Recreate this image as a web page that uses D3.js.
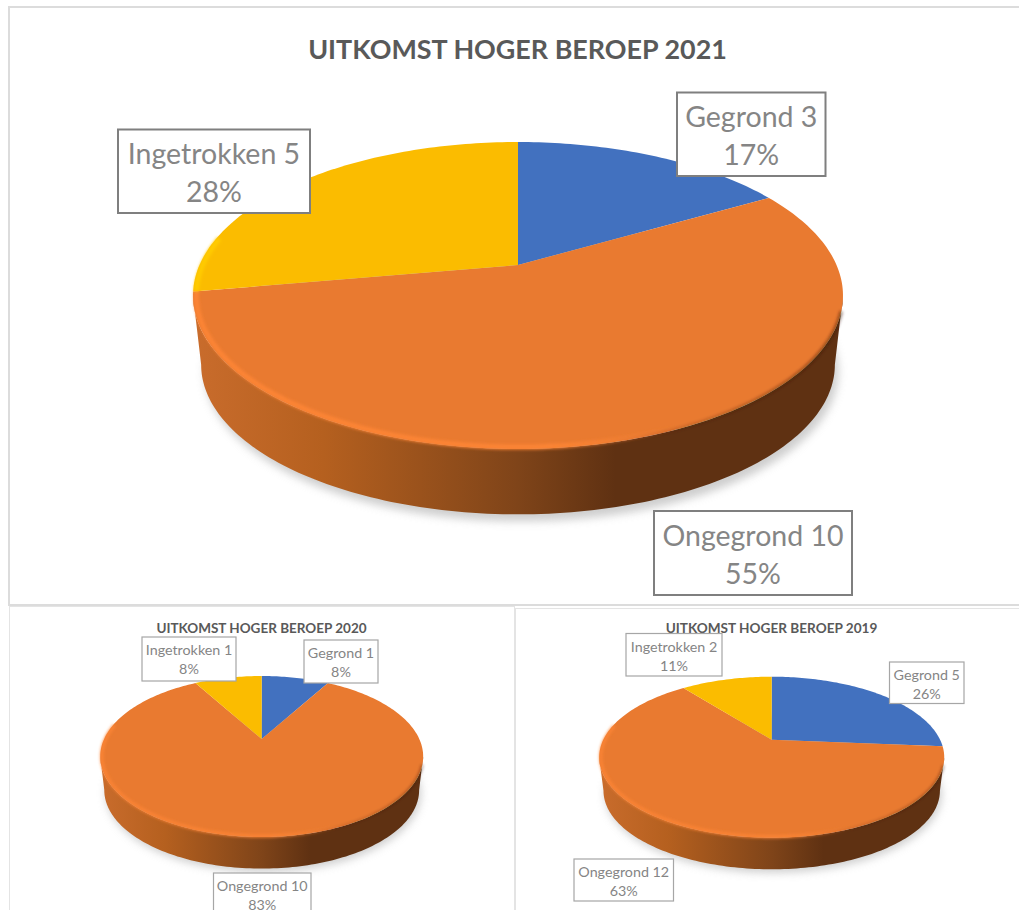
<!DOCTYPE html>
<html>
<head>
<meta charset="utf-8">
<style>
html,body{margin:0;padding:0;background:#fff;overflow:hidden}
text{font-family:Lato,"Open Sans",sans-serif}
</style>
<script src="https://cdn.jsdelivr.net/npm/d3@7"></script>
</head>
<body>
<div id="wrapper"></div>
<script>
// Data
const categories=['Gegrond','Ongegrond','Ingetrokken'];
const colors=['#4271bf','#e97a30','#fbbc00'];
const counts2021=[3,10,5];
const counts2020=[1,10,1];
const counts2019=[5,12,2];
const percents2021=['17%','55%','28%'];
const percents2020=['8%','83%','8%'];
const percents2019=['26%','63%','11%'];
const titles=['UITKOMST HOGER BEROEP 2021','UITKOMST HOGER BEROEP 2020','UITKOMST HOGER BEROEP 2019'];

// Dimension
const dimension={width:1019,height:910};
const wrapper=d3.select('#wrapper').append('svg')
    .attr('width',dimension.width).attr('height',dimension.height)
    .style('display','block');
const defs=wrapper.append('defs');
defs.append('filter').attr('id','shadowBlur').attr('x','-20%').attr('y','-20%').attr('width','140%').attr('height','140%')
    .append('feGaussianBlur').attr('stdDeviation',4.5);
defs.append('filter').attr('id','rimBlur').attr('filterUnits','userSpaceOnUse')
    .attr('x',0).attr('y',0).attr('width',dimension.width).attr('height',dimension.height)
    .append('feGaussianBlur').attr('stdDeviation',1.5);

const sideGrad=defs.append('linearGradient').attr('id','side');
[[0,'#c96c2c'],[0.2,'#b5601f'],[0.5,'#7f4419'],[0.65,'#5f3112'],[1,'#5f3112']]
    .forEach(s=>sideGrad.append('stop').attr('offset',s[0]).attr('stop-color',s[1]));

// Panel frames
const frames=wrapper.append('g').attr('fill','none');
frames.append('rect').attr('x',9).attr('y',7).attr('width',1020).attr('height',598)
    .attr('stroke','#dcdcdc').attr('stroke-width',2);
frames.append('rect').attr('x',9.5).attr('y',606.5).attr('width',505).attr('height',320)
    .attr('stroke','#e4e4e4');
frames.append('rect').attr('x',515.5).attr('y',608.5).attr('width',520).attr('height',320)
    .attr('stroke','#e4e4e4');

const pie=d3.pie().sort(null);
const lineGen=d3.line();

// Turn an angle on the disc into a screen point, near side drawn bigger
const projector=(geo,grow,drop)=>angle=>{
    const u=Math.sin(angle),v=-Math.cos(angle);
    const w=1-geo.k*v;
    return [geo.cx+geo.a*grow*u/w,geo.cy+drop+geo.b*grow*v/w];
};
const sweep=(from,to)=>{
    const steps=Math.max(2,Math.ceil((to-from)/0.02));
    const t=d3.scaleLinear().domain([0,steps]).range([from,to]);
    return d3.range(steps+1).map(t);
};

const drawPie=(counts,geo,index)=>{
    const g=wrapper.append('g');
    const top=projector(geo,1,0);
    const bottom=projector(geo,0.975,geo.depth);
    const full=sweep(0,Math.PI*2);

    g.append('path').attr('d',lineGen(full.map(bottom))+'Z')
        .attr('transform',`translate(${geo.depth*0.05},${geo.depth*0.1})`)
        .attr('fill','#b4b4b4').attr('opacity',0.65).attr('filter','url(#shadowBlur)');
    // side wall, between the widest points of the disc
    const widest=Math.acos(-geo.k);
    const front=sweep(widest,Math.PI*2-widest);
    g.append('path')
        .attr('d',lineGen(front.map(top).concat(front.slice().reverse().map(bottom)))+'Z')
        .attr('fill','url(#side)');

    const slices=pie(counts);
    g.selectAll('path.slice').data(slices).enter().append('path')
        .attr('class','slice')
        .attr('d',d=>lineGen([[geo.cx,geo.cy]].concat(sweep(d.startAngle,d.endAngle).map(top)))+'Z')
        .attr('fill',(d,i)=>colors[i]);

    // dark soft edge on the shaded side
    const shadeGrad=defs.append('linearGradient').attr('id',`shade${index}`)
        .attr('gradientUnits','userSpaceOnUse').attr('x1',geo.cx+geo.a*0.25).attr('x2',geo.cx+geo.a);
    [[0,0],[1,0.5]].forEach(s=>shadeGrad.append('stop').attr('offset',s[0])
        .attr('stop-color','#3a1c08').attr('stop-opacity',s[1]));
    g.append('path').attr('d',lineGen(sweep(widest+0.1,Math.PI).map(top)))
        .attr('fill','none').attr('stroke',`url(#shade${index})`).attr('stroke-width',geo.rim*0.7)
        .attr('filter','url(#rimBlur)');

    // lit bevel along the front rim, one piece per slice
    slices.forEach((d,i)=>{
        const from=Math.max(d.startAngle,Math.PI*0.7),to=Math.min(d.endAngle,Math.PI*1.56);
        if(from>=to) return;
        const lit=d3.rgb(colors[i]).brighter(0.22).formatHex();
        const grad=defs.append('linearGradient').attr('id',`rim${index}-${i}`)
            .attr('gradientUnits','userSpaceOnUse').attr('x1',geo.cx+geo.a*0.1).attr('x2',geo.cx+geo.a*0.5);
        [[0,1],[1,0]].forEach(s=>grad.append('stop').attr('offset',s[0])
            .attr('stop-color',lit).attr('stop-opacity',s[1]));
        g.append('path').attr('d',lineGen(sweep(from,to).map(projector(geo,0.99,0))))
            .attr('fill','none').attr('stroke',`url(#rim${index}-${i})`).attr('stroke-width',geo.rim)
            .attr('filter','url(#rimBlur)');
    });
};

const drawLabel=(box,name,count,percent,style)=>{
    const g=wrapper.append('g');
    g.append('rect').attr('x',box[0]).attr('y',box[1]).attr('width',box[2]-box[0]).attr('height',box[3]-box[1])
        .attr('fill','#fff').attr('stroke',style.stroke).attr('stroke-width',style.strokeWidth);
    const cx=(box[0]+box[2])/2;
    const t=g.append('g').attr('fill','#858585').attr('font-size',style.size).attr('text-anchor','middle');
    t.append('text').attr('x',cx).attr('y',box[1]+style.first).text(`${name} ${count}`);
    t.append('text').attr('x',cx).attr('y',box[1]+style.second).text(percent);
};

const drawTitle=(text,x,y,size)=>{
    wrapper.append('text').attr('x',x).attr('y',y).attr('text-anchor','middle')
        .attr('font-size',size).attr('font-weight',700).attr('fill','#595959').text(text);
};

const geo2021={cx:518,cy:265,a:318.5,b:147.4,k:0.1987,depth:70,rim:5};
const geo2020={cx:261.7,cy:739,a:157.6,b:76.7,k:0.2175,depth:34,rim:3};
const geo2019={cx:771.7,cy:739.7,a:168.4,b:76.7,k:0.2175,depth:34,rim:3};

// 2021
drawTitle(titles[0],517.5,59,26.9);
drawPie(counts2021,geo2021,0);
const bigStyle={stroke:'#7f7f7f',strokeWidth:2,size:28.5,first:34.5,second:72.5};
const boxes2021=[[677,92.5,825.5,176],[654,511,852,595],[118,129.5,310,213]];
categories.forEach((c,i)=>drawLabel(boxes2021[i],c,counts2021[i],percents2021[i],bigStyle));

// 2020
drawTitle(titles[1],261.5,633,13.5);
drawPie(counts2020,geo2020,1);
const smallStyle={stroke:'#a6a6a6',strokeWidth:1.2,size:14.3,first:18,second:37};
const boxes2020=[[304,640,378,683],[213.5,873,311,918],[142,637,236,681]];
categories.forEach((c,i)=>drawLabel(boxes2020[i],c,counts2020[i],percents2020[i],smallStyle));

// 2019
drawTitle(titles[2],771.5,633,13.6);
drawPie(counts2019,geo2019,2);
const boxes2019=[[889.5,662,964,703.5],[574,859,673.5,901],[626,633.5,722,676]];
categories.forEach((c,i)=>drawLabel(boxes2019[i],c,counts2019[i],percents2019[i],smallStyle));
</script>
</body>
</html>
